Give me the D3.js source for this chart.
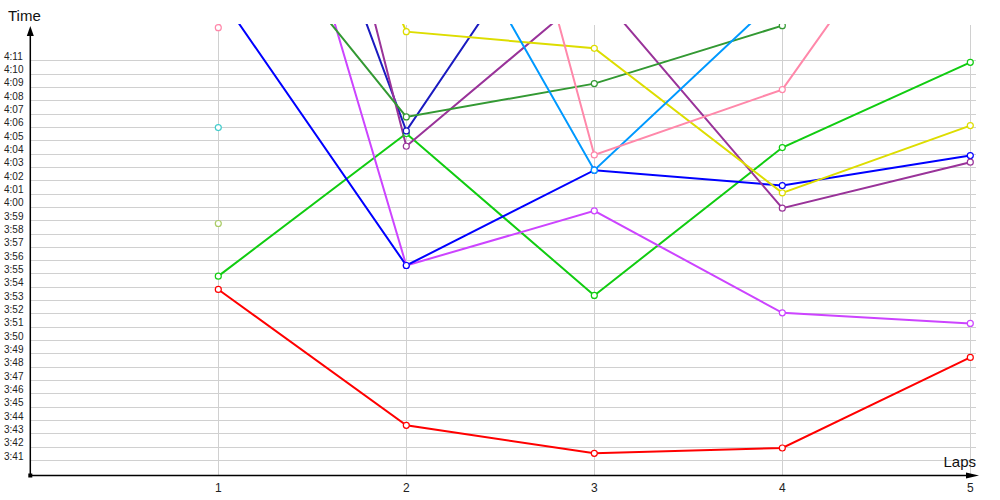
<!DOCTYPE html>
<html><head><meta charset="utf-8">
<script src="https://cdn.jsdelivr.net/npm/d3@7"></script>
<style>html,body{margin:0;padding:0;background:#fff;}svg{display:block;}</style>
</head><body>
<svg id="chart" width="1000" height="500"></svg>
<script>
// Laps (x categories)
const laps = [1, 2, 3, 4, 5];
// Y ticks in seconds (3:41 .. 4:11)
const yTicks = [221,222,223,224,225,226,227,228,229,230,231,232,233,234,235,236,237,238,239,240,241,242,243,244,245,246,247,248,249,250,251];
// Lap times in seconds (null = no value)
const redTimes       = [233.8, 223.6, 221.5, 221.9, 228.7];
const greenTimes     = [234.8, 245.5, 233.35, 244.45, 250.85];
const violetTimes    = [283.3, 235.6, 239.7, 232.05, 231.25];
const blueTimes      = [256.0, 235.6, 242.75, 241.6, 243.85];
const navyTimes      = [283.7, 245.7, 266.6, null, null];
const purpleTimes    = [299.9, 244.55, 256.4, 239.9, 243.35];
const darkGreenTimes = [264.2, 246.75, 249.25, 253.6, null];
const yellowTimes    = [286.1, 253.15, 251.9, 241.05, 246.1];
const skyTimes       = [null, 267.5, 242.75, 256.0, null];
const pinkTimes      = [253.45, 296.0, 243.9, 248.8, 268.7];
const cyanTimes      = [245.95, null, null, null, null];
const oliveTimes     = [238.75, null, null, null, null];

const series = [
  {color:"#ff0000", values:redTimes},
  {color:"#11cc11", values:greenTimes},
  {color:"#cc44ff", values:violetTimes},
  {color:"#0000ff", values:blueTimes},
  {color:"#1a1ac0", values:navyTimes},
  {color:"#993399", values:purpleTimes},
  {color:"#339933", values:darkGreenTimes},
  {color:"#dddd00", values:yellowTimes},
  {color:"#0099ff", values:skyTimes},
  {color:"#ff88aa", values:pinkTimes},
  {color:"#44cccc", values:cyanTimes},
  {color:"#aacc66", values:oliveTimes}
];

const fmt = s => Math.floor(s/60) + ":" + String(Math.round(s%60)).padStart(2,"0");

const svg = d3.select("#chart");
const x = d3.scaleLinear().domain([0,5]).range([30.3,970.3]);
const y = d3.scaleLinear().domain([221,251]).range([460,60.3]);
const x0 = 30.3, yBase = 475.5, topY = 25, rightX = 976;

// clip
svg.append("defs").append("clipPath").attr("id","clip")
  .append("rect").attr("x",x0).attr("y",topY-1).attr("width",rightX-x0+6).attr("height",yBase-topY+1);

// horizontal grid
svg.append("g").selectAll("line").data(yTicks).join("line")
  .attr("x1",x0).attr("x2",rightX)
  .attr("y1",d=>Math.round(y(d))+0.5).attr("y2",d=>Math.round(y(d))+0.5)
  .attr("stroke","#d0d0d0").attr("stroke-width",1);
// vertical grid
svg.append("g").selectAll("line").data(laps).join("line")
  .attr("x1",d=>Math.round(x(d))+0.5).attr("x2",d=>Math.round(x(d))+0.5)
  .attr("y1",topY).attr("y2",yBase)
  .attr("stroke","#d0d0d0").attr("stroke-width",1);

// y tick labels
svg.append("g").selectAll("text").data(yTicks).join("text")
  .attr("x",4).attr("y",d=>y(d)-0.5)
  .attr("font-family","Liberation Sans, Arial, sans-serif").attr("font-size",10)
  .attr("fill","#222").text(d=>fmt(d));
// x tick labels
svg.append("g").selectAll("text").data(laps).join("text")
  .attr("x",d=>x(d)).attr("y",492).attr("text-anchor","middle")
  .attr("font-family","Liberation Sans, Arial, sans-serif").attr("font-size",12)
  .attr("fill","#222").text(d=>d);

// series
const plot = svg.append("g").attr("clip-path","url(#clip)");
const line = d3.line().defined(d=>d.v!=null).x(d=>x(d.lap)).y(d=>y(d.v));
series.forEach(s=>{
  const pts = laps.map((l,i)=>({lap:l, v:s.values[i]}));
  plot.append("path").datum(pts).attr("d",line)
    .attr("fill","none").attr("stroke",s.color).attr("stroke-width",2);
});
series.forEach(s=>{
  const pts = laps.map((l,i)=>({lap:l, v:s.values[i]})).filter(d=>d.v!=null);
  plot.append("g").selectAll("circle").data(pts).join("circle")
    .attr("cx",d=>x(d.lap)).attr("cy",d=>y(d.v)).attr("r",3)
    .attr("fill","#fff").attr("stroke",s.color).attr("stroke-width",1.2);
});

// axes
svg.append("line").attr("x1",x0).attr("x2",x0).attr("y1",yBase).attr("y2",32)
  .attr("stroke","#000").attr("stroke-width",1.5);
svg.append("line").attr("x1",x0).attr("x2",970).attr("y1",yBase).attr("y2",yBase)
  .attr("stroke","#000").attr("stroke-width",1.5);
svg.append("path").attr("d",`M${x0},26 L${x0-3.5},36 L${x0+3.5},36 Z`).attr("fill","#000");
svg.append("path").attr("d",`M979,${yBase} L966,${yBase-3} L966,${yBase+3} Z`).attr("fill","#000");
svg.append("rect").attr("x",x0-2).attr("y",yBase-2).attr("width",4).attr("height",4).attr("fill","#000");

// axis titles
svg.append("text").attr("x",8).attr("y",21).attr("font-family","Liberation Sans, Arial, sans-serif")
  .attr("font-size",15).attr("fill","#111").text("Time");
svg.append("text").attr("x",976).attr("y",467).attr("text-anchor","end").attr("font-family","Liberation Sans, Arial, sans-serif")
  .attr("font-size",15).attr("fill","#111").text("Laps");
</script>
</body></html>
